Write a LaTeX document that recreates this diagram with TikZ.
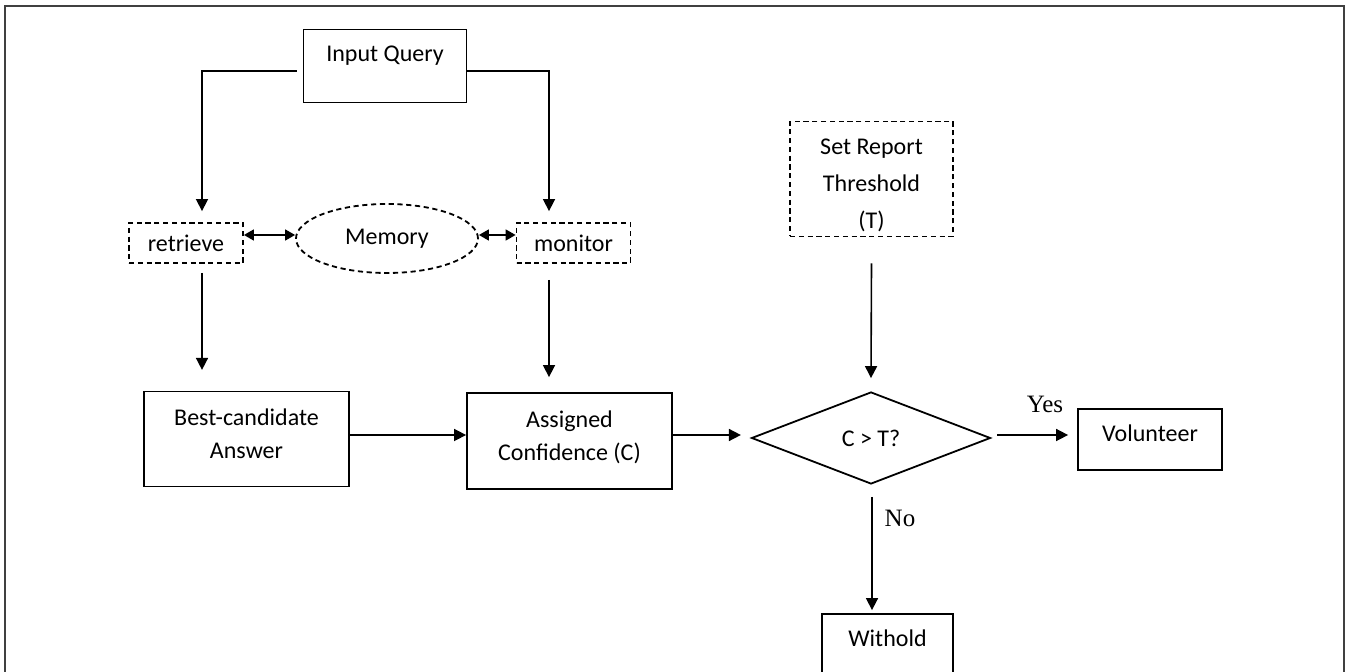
\documentclass[tikz,border=0pt]{standalone}
\usepackage{fontspec}
\setmainfont{Carlito}
\newfontfamily\answerfont{Liberation Serif}
\usetikzlibrary{shapes.geometric,arrows.meta}

\tikzset{
  box/.style={draw, line width=0.9pt, align=center, inner sep=0pt,
    font=\fontsize{12}{17}\selectfont},
  dashbox/.style={box, dash pattern=on 2.6pt off 1.8pt},
  flow/.style={line width=0.8pt, -{Triangle[length=6pt,width=6pt]}},
  twoway/.style={line width=0.8pt, {Triangle[length=5pt,width=5.5pt]}-{Triangle[length=5pt,width=5.5pt]}},
  answer/.style={font=\answerfont\fontsize{12.5}{14}\selectfont, inner sep=0pt}
}

\begin{document}
\begin{tikzpicture}[x=0.5pt,y=-0.5pt]

  \useasboundingbox (0,0) rectangle (1348,672);
\draw[line width=1pt, black!75] (5,6) rectangle (1344,700);

% boxes
\node[box, minimum width=81.5pt, minimum height=36.5pt, text height=8.5pt, text depth=13.4pt] (query) at (385,66) {Input Query};
\node[dashbox, minimum width=57pt, minimum height=20pt] (retrieve) at (186,243) {retrieve};
\node[dashbox, ellipse, minimum width=91pt, minimum height=34.5pt] (memory) at (387,238.5) {Memory};
\node[dashbox, minimum width=57pt, minimum height=20pt] (monitor) at (573.5,243) {monitor};
\node[box, minimum width=102.5pt, minimum height=47.5pt] (best) at (246.5,439) {Best-candidate\\[-0.5pt]Answer\\[-12pt]};
\node[box, minimum width=102.5pt, minimum height=48pt] (assigned) at (569.5,441) {Assigned\\[-0.5pt]Confidence (C)\\[-12pt]};
\node[dashbox, minimum width=81.5pt, minimum height=57.5pt, font=\fontsize{12}{18.5}\selectfont] (threshold) at (871.5,179) {\mbox{}\\[-4pt]Set Report\\Threshold\\(T)};
\node[box, diamond, minimum width=119.5pt, minimum height=46pt] (decision) at (871,438) {C > T?};
\node[box, minimum width=72pt, minimum height=30.5pt, text height=8.5pt, text depth=6.5pt] (volunteer) at (1150,439.5) {Volunteer};
\node[box, minimum width=65.5pt, minimum height=30.5pt, text height=8.5pt, text depth=6.5pt] (withold) at (887.5,644.5) {Withold};

\node[answer] (yes) at (1045,404) {Yes};
\node[answer] (no) at (900,518) {No};

% connectors
\draw[flow] ([xshift=-3pt,yshift=-2.5pt]query.west) -| ([xshift=8pt,yshift=5.5pt]retrieve.north);
\draw[flow] ([yshift=-2.5pt]query.east) -| ([xshift=-12.25pt,yshift=5.5pt]monitor.north);
\draw[twoway] ([yshift=4pt]retrieve.east) -- ([yshift=1.75pt]memory.west);
\draw[twoway] ([yshift=1.75pt]memory.east) -- ([yshift=4pt]monitor.west);
\draw[flow] ([xshift=8pt,yshift=-4.5pt]retrieve.south) -- ([xshift=-22.25pt,yshift=10.35pt]best.north);
\draw[flow] ([xshift=-12.25pt,yshift=-8pt]monitor.south) -- ([xshift=-10.25pt,yshift=7.5pt]assigned.north);
\draw[flow] ([yshift=2pt]best.east) -- ([yshift=3pt]assigned.west);
\draw[flow] ([yshift=3pt]assigned.east) -- ([xshift=-4.85pt,yshift=1.5pt]decision.west);
\draw[flow] ([yshift=-13pt]threshold.south) -- ([yshift=6.5pt]decision.north);
\draw[flow] ([xshift=3pt,yshift=1.5pt]decision.east) -- ([xshift=-4.5pt,yshift=2.25pt]volunteer.west);
\draw[flow] ([xshift=0.5pt,yshift=-6pt]decision.south) -- ([xshift=-7.75pt,yshift=1.5pt]withold.north);

\end{tikzpicture}
\end{document}
